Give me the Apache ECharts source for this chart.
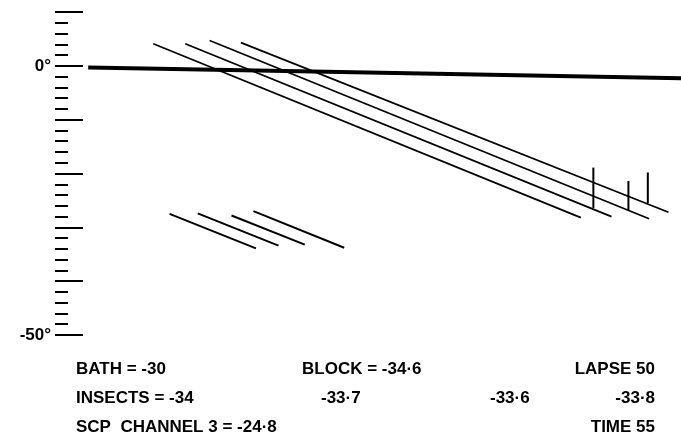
<!DOCTYPE html>
<html>
<head>
<meta charset="utf-8">
<script src="https://cdn.jsdelivr.net/npm/echarts@6/dist/echarts.min.js"></script>
<style>
  html, body { margin: 0; padding: 0; background: #fff; }
  #chart { width: 681px; height: 446px; }
</style>
</head>
<body>
<div id="chart"></div>
<script>
// temperature scale (degrees), ticks every 2, long ticks every 10
const yMin = -50
const yMax = 10
const minorStep = 2
const majorStep = 10
const labelledTicks = { '0': '0°', '-50': '-50°' }

// block / bath reference trace (time, degrees)
const baseTrace = [[5.3, -0.3], [39, -1.0], [100, -2.3]]

// cooling traces of the four insects: start and end points
const traceStart = [[15.7, 4.1], [20.8, 4.1], [24.7, 4.7], [29.7, 4.3]]
const traceEnd = [[84.0, -28.2], [88.9, -28.0], [94.9, -28.4], [98.0, -27.2]]

// short strokes lower left
const strokeStart = [[18.3, -27.5], [22.8, -27.4], [28.2, -27.8], [31.7, -27.0]]
const strokeEnd = [[32.1, -33.9], [35.7, -33.4], [39.9, -33.2], [46.2, -33.8]]

// vertical marks at the right end of the traces
const markX = [86.0, 91.6, 94.7]
const markTop = [-18.9, -21.4, -19.8]
const markBottom = [-26.4, -26.8, -25.5]

// text under the chart
const row1 = ['BATH = -30', 'BLOCK = -34·6', 'LAPSE 50']
const row2 = ['INSECTS = -34', '-33·7', '-33·6', '-33·8']
const row3 = ['SCP  CHANNEL 3 = -24·8', 'TIME 55']

const ink = '#000'
const font = '"Liberation Sans", Arial, sans-serif'

let series = []
series.push({
  type: 'line',
  data: baseTrace,
  symbol: 'none',
  lineStyle: { color: ink, width: 4 },
})
traceStart.forEach((p, i) => {
  series.push({
    type: 'line',
    data: [p, traceEnd[i]],
    symbol: 'none',
    lineStyle: { color: ink, width: 1.8 },
  })
})
strokeStart.forEach((p, i) => {
  series.push({
    type: 'line',
    data: [p, strokeEnd[i]],
    symbol: 'none',
    lineStyle: { color: ink, width: 2 },
  })
})
markX.forEach((x, i) => {
  series.push({
    type: 'line',
    data: [[x, markTop[i]], [x, markBottom[i]]],
    symbol: 'none',
    lineStyle: { color: ink, width: 2 },
  })
})

const textStyle = (text, x, y, align) => ({
  type: 'text',
  x: x,
  y: y,
  style: {
    text: text,
    fill: ink,
    font: 'bold 17px ' + font,
    textAlign: align,
    textVerticalAlign: 'middle',
  },
})

let graphic = [
  textStyle(row1[0], 76, 369, 'left'),
  textStyle(row1[1], 302, 369, 'left'),
  textStyle(row1[2], 655, 369, 'right'),
  textStyle(row2[0], 76, 398, 'left'),
  textStyle(row2[1], 321, 398, 'left'),
  textStyle(row2[2], 490, 398, 'left'),
  textStyle(row2[3], 655, 398, 'right'),
  textStyle(row3[0], 76, 427, 'left'),
  textStyle(row3[1], 655, 427, 'right'),
]

let option = {
  animation: false,
  backgroundColor: '#fff',
  grid: { left: 55, right: 0, top: 12, bottom: 111 },
  xAxis: { type: 'value', min: 0, max: 100, show: false },
  yAxis: [
    {
      type: 'value',
      min: yMin,
      max: yMax,
      interval: minorStep,
      axisLine: { show: false },
      axisTick: { show: true, inside: true, length: 13, lineStyle: { color: ink, width: 2 } },
      axisLabel: { show: false },
      splitLine: { show: false },
    },
    {
      type: 'value',
      position: 'left',
      min: yMin,
      max: yMax,
      interval: majorStep,
      axisLine: { show: false },
      axisTick: { show: true, inside: true, length: 28, lineStyle: { color: ink, width: 2 } },
      axisLabel: {
        show: true,
        margin: 4,
        color: ink,
        fontSize: 17,
        fontWeight: 'bold',
        fontFamily: font,
        formatter: (v) => labelledTicks[String(v)] || '',
      },
      splitLine: { show: false },
    },
  ],
  series: series,
  graphic: graphic,
}

let myChart = echarts.init(document.getElementById('chart'))
myChart.setOption(option)
</script>
</body>
</html>
